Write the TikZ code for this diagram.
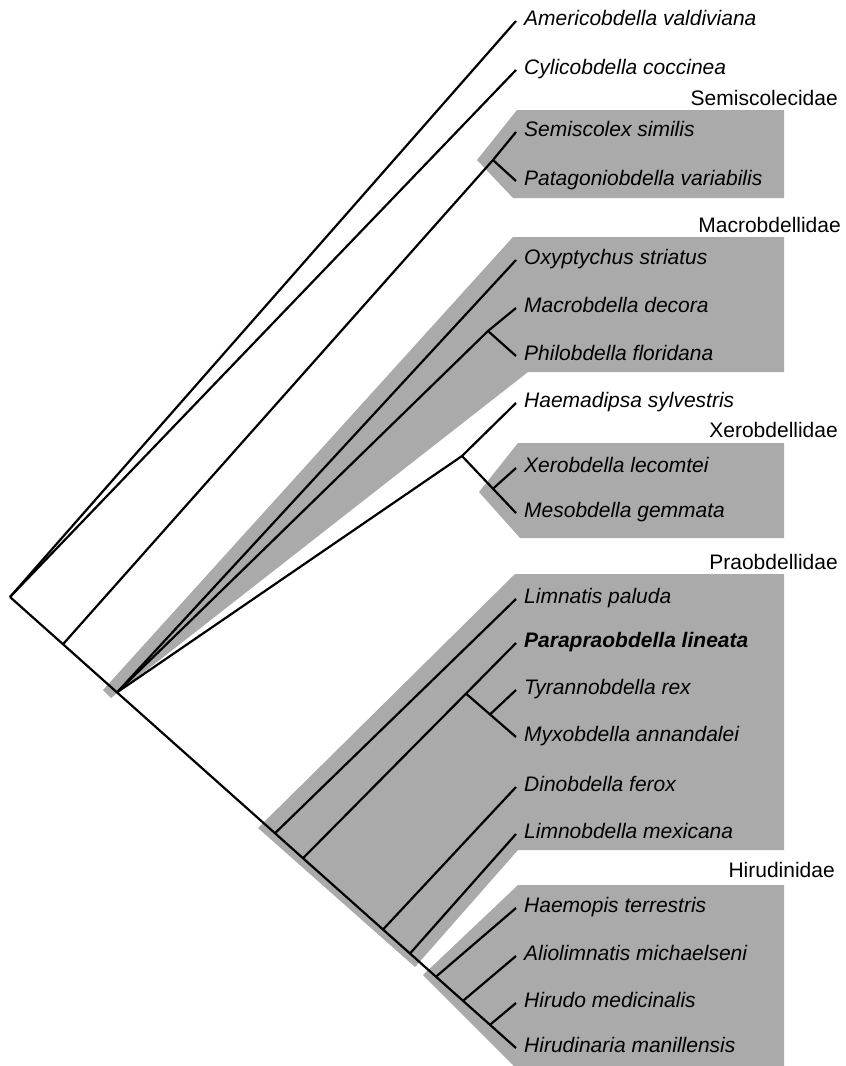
\documentclass[tikz,border=0pt]{standalone}
\usepackage{fontspec}
\setmainfont{Liberation Sans}
\usepackage{xcolor}
\definecolor{CladeGray}{HTML}{AAAAAA}

\begin{document}
\begin{tikzpicture}[x=1pt, y=-1pt,
    branch/.style={line width=2.2pt, black},
    clade/.style={fill=CladeGray},
    leaf/.style={anchor=base west, inner sep=0pt, xshift=8pt, yshift=-4pt, font=\fontsize{21}{25}\selectfont\itshape},
    family/.style={anchor=base east, inner sep=0pt, font=\fontsize{21}{25}\selectfont}]
    \useasboundingbox (0,0) rectangle (846,1066);

    % Shaded families
    \fill[clade] (477,160) -- (517,110) -- (784,110) -- (784,198) -- (513,198) -- cycle;
    \fill[clade] (103,690) -- (513,237) -- (784,237) -- (784,372) -- (528,372) -- (111,698) -- cycle;
    \fill[clade] (479,492) -- (518,443) -- (784,443) -- (784,538) -- (520,538) -- cycle;
    \fill[clade] (258,828) -- (515,574) -- (784,574) -- (784,850) -- (518,850) -- (415,967) -- cycle;
    \fill[clade] (423,975) -- (518,885) -- (784,885) -- (784,1066) -- (514,1066) -- cycle;

    % Internal nodes on the spine
    \coordinate (root) at (10,597);
    \coordinate (n1) at (63,644.2);
    \coordinate (n2) at (117,692.4);
    \coordinate (s1) at (275,833.2);
    \coordinate (s2) at (303,858.2);
    \coordinate (s3) at (383,929.5);
    \coordinate (s4) at (410,953.5);
    \coordinate (s5) at (436,976.7);
    \coordinate (s6) at (463,1000.8);
    \coordinate (s7) at (490,1024.8);
    % Other internal nodes
    \coordinate (semi) at (493,160);
    \coordinate (macro) at (488,331);
    \coordinate (haem) at (462,456);
    \coordinate (xero) at (493,488.7);
    \coordinate (para) at (466,693.6);
    \coordinate (tyra) at (490,714.4);

    % Tips
    \coordinate (amer) at (516,21);
    \coordinate (cyli) at (516,70);
    \coordinate (semis) at (516,132);
    \coordinate (patag) at (516,181);
    \coordinate (oxyp) at (516,260);
    \coordinate (macd) at (516,308);
    \coordinate (phil) at (516,356);
    \coordinate (haemd) at (516,403);
    \coordinate (xerl) at (516,468);
    \coordinate (meso) at (516,513);
    \coordinate (limp) at (516,599);
    \coordinate (parl) at (516,643);
    \coordinate (tyrr) at (516,690);
    \coordinate (myxo) at (516,737);
    \coordinate (dino) at (516,787);
    \coordinate (limx) at (516,834);
    \coordinate (haemo) at (516,908);
    \coordinate (alio) at (516,956);
    \coordinate (hiru) at (516,1003);
    \coordinate (hman) at (516,1048);

    % Branches
    \draw[branch] (root) -- (n1) -- (n2) -- (s1) -- (s2) -- (s3) -- (s4) -- (s5) -- (s6) -- (s7) -- (hman);
    \draw[branch] (root) -- (amer);
    \draw[branch] (root) -- (cyli);
    \draw[branch] (n1) -- (semi) -- (semis);
    \draw[branch] (semi) -- (patag);
    \draw[branch] (n2) -- (oxyp);
    \draw[branch] (n2) -- (macro) -- (macd);
    \draw[branch] (macro) -- (phil);
    \draw[branch] (n2) -- (haem) -- (haemd);
    \draw[branch] (haem) -- (xero) -- (meso);
    \draw[branch] (xero) -- (xerl);
    \draw[branch] (s1) -- (limp);
    \draw[branch] (s2) -- (para) -- (parl);
    \draw[branch] (para) -- (tyra) -- (myxo);
    \draw[branch] (tyra) -- (tyrr);
    \draw[branch] (s3) -- (dino);
    \draw[branch] (s4) -- (limx);
    \draw[branch] (s5) -- (haemo);
    \draw[branch] (s6) -- (alio);
    \draw[branch] (s7) -- (hiru);

    % Species
    \node[leaf] (amerL) at (amer) {Americobdella valdiviana};
    \node[leaf] (cyliL) at (cyli) {Cylicobdella coccinea};
    \node[leaf] (semisL) at (semis) {Semiscolex similis};
    \node[leaf] (patagL) at (patag) {Patagoniobdella variabilis};
    \node[leaf] (oxypL) at (oxyp) {Oxyptychus striatus};
    \node[leaf] (macdL) at (macd) {Macrobdella decora};
    \node[leaf] (philL) at (phil) {Philobdella floridana};
    \node[leaf] (haemdL) at (haemd) {Haemadipsa sylvestris};
    \node[leaf] (xerlL) at (xerl) {Xerobdella lecomtei};
    \node[leaf] (mesoL) at (meso) {Mesobdella gemmata};
    \node[leaf] (limpL) at (limp) {Limnatis paluda};
    \node[leaf] (parlL) at (parl) {\bfseries Parapraobdella lineata};
    \node[leaf] (tyrrL) at (tyrr) {Tyrannobdella rex};
    \node[leaf] (myxoL) at (myxo) {Myxobdella annandalei};
    \node[leaf] (dinoL) at (dino) {Dinobdella ferox};
    \node[leaf] (limxL) at (limx) {Limnobdella mexicana};
    \node[leaf] (haemoL) at (haemo) {Haemopis terrestris};
    \node[leaf] (alioL) at (alio) {Aliolimnatis michaelseni};
    \node[leaf] (hiruL) at (hiru) {Hirudo medicinalis};
    \node[leaf] (hmanL) at (hman) {Hirudinaria manillensis};

    % Families
    \node[family] (semiF) at (838,105) {Semiscolecidae};
    \node[family] (macroF) at (841,232) {Macrobdellidae};
    \node[family] (xeroF) at (838,437) {Xerobdellidae};
    \node[family] (praoF) at (838,569) {Praobdellidae};
    \node[family] (hiruF) at (835,877) {Hirudinidae};
\end{tikzpicture}
\end{document}
